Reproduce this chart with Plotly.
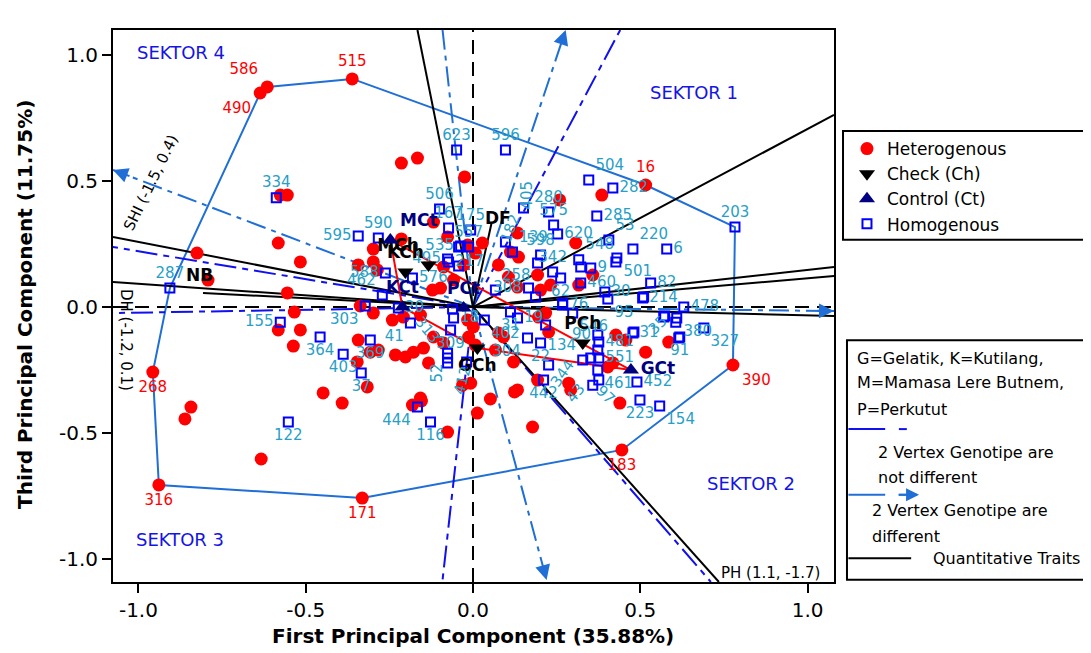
import plotly.graph_objects as go

FONT = "DejaVu Sans"

# ---------------- data: genotype scores (PC1, PC3) ----------------
het_x = [-0.615, -0.636, -0.361, -0.214, -0.166, -0.025, -0.576, -0.555, 0.516, 0.385,
         0.259, -0.118, -0.298, -0.214, -0.076, 0.028, -0.016, 0.133, -0.298, -0.582,
         -0.516, -0.825, -0.792, -0.555, -0.534, -0.582, -0.516, -0.537, -0.286, -0.337,
         -0.298, -0.241, -0.208, -0.157, -0.121, -0.097, -0.058, -0.016, -0.343, -0.307,
         -0.283, -0.346, -0.232, -0.202, -0.178, -0.148, -0.118, -0.088, -0.133, -0.448,
         -0.316, -0.957, -0.088, -0.028, 0.007, 0.001, -0.391, -0.181, -0.154, -0.076,
         0.013, -0.007, -0.843, -0.861, -0.633, -0.939, -0.331, -0.031, 0.052, 0.124,
         0.178, 0.286, 0.292, 0.439, 0.445, 0.193, 0.007, 0.067, 0.121, -0.157,
         0.076, 0.106, 0.133, -0.013, 0.136, 0.112, 0.307, 0.358, 0.316, 0.193,
         0.232, 0.202, 0.076, 0.091, 0.196, 0.226, 0.427, 0.457, 0.516, 0.585,
         0.418, 0.133, 0.217, 0.403, 0.777, -0.343]
het_y = [0.873, 0.849, 0.905, 0.571, 0.591, 0.516, 0.444, 0.444, 0.484, 0.444,
         0.425, 0.337, 0.230, 0.270, 0.278, 0.254, 0.246, 0.294, 0.179, 0.254,
         0.179, 0.214, 0.107, 0.056, -0.020, -0.091, -0.091, -0.155, 0.147, 0.004,
         -0.024, -0.052, -0.040, -0.032, 0.067, 0.075, 0.107, -0.052, -0.131, -0.179,
         -0.171, -0.218, -0.190, -0.198, -0.179, -0.163, -0.119, -0.143, -0.222, -0.341,
         -0.317, -0.258, 0.159, 0.167, 0.214, -0.079, -0.381, -0.389, -0.373, -0.496,
         -0.421, -0.302, -0.397, -0.444, -0.603, -0.706, -0.758, -0.310, -0.365, -0.337,
         -0.476, -0.302, -0.329, -0.381, -0.567, -0.290, -0.151, -0.171, -0.218, -0.361,
         0.167, 0.119, 0.079, -0.119, 0.198, 0.218, 0.254, 0.127, 0.087, 0.127,
         0.087, 0.067, -0.103, -0.119, -0.040, -0.099, -0.111, -0.131, -0.179, -0.139,
         -0.222, -0.329, -0.024, -0.238, -0.230, 0.167]
het_label = {0: "586", 1: "490", 2: "515", 8: "16", 51: "268", 65: "316",
             66: "171", 74: "183", 104: "390"}
het_label_pos = {0: "top left", 1: "bottom left", 2: "top center", 8: "top center",
                 51: "bottom center", 65: "bottom center", 66: "bottom center",
                 74: "bottom center", 104: "bottom right"}

hom_x = [-0.049, 0.097, -0.588, -0.100, 0.346, 0.418, 0.783, -0.343, -0.283, -0.073,
         -0.007, -0.037, -0.013, -0.076, -0.043, -0.262, -0.271, -0.322, -0.576, -0.457,
         -0.388, -0.307, -0.334, -0.187, -0.906, -0.223, -0.061, -0.067, -0.058, -0.181,
         -0.076, -0.076, -0.076, -0.019, 0.034, 0.151, 0.226, 0.241, 0.253, 0.202,
         0.118, 0.370, 0.406, 0.478, 0.579, 0.316, 0.430, 0.238, 0.352, 0.322,
         0.531, 0.394, 0.507, 0.262, 0.630, 0.268, 0.298, 0.403, 0.609, 0.573,
         0.690, 0.618, 0.478, 0.373, 0.376, 0.328, 0.376, 0.373, 0.490, 0.499,
         0.558, 0.211, 0.202, 0.226, 0.358, 0.376, 0.163, 0.133, 0.112, 0.067,
         0.166, -0.073, 0.097, -0.552, -0.166, -0.127, 0.187, 0.268, 0.570, 0.606,
         0.481, 0.615, 0.510, 0.427, 0.193, 0.352, 0.373, 0.217, -0.043, 0.322]
hom_y = [0.623, 0.623, 0.433, 0.389, 0.504, 0.472, 0.317, 0.282, 0.274, 0.313,
         0.306, 0.242, 0.238, 0.190, 0.163, 0.135, 0.048, 0.004, -0.060, -0.119,
         -0.187, -0.131, -0.262, -0.063, 0.075, -0.004, -0.008, -0.091, -0.044, 0.115,
         -0.183, -0.202, -0.222, -0.218, -0.052, 0.393, 0.377, 0.325, 0.290, 0.206,
         0.218, 0.361, 0.266, 0.230, 0.230, 0.187, 0.194, 0.139, 0.155, 0.095,
         0.095, 0.060, 0.036, 0.115, 0.000, 0.008, -0.024, 0.032, -0.044, -0.036,
         -0.083, -0.119, -0.103, -0.111, -0.139, -0.210, -0.202, -0.250, -0.298, -0.369,
         -0.393, -0.290, -0.143, -0.230, -0.310, -0.290, -0.123, -0.044, -0.020, 0.067,
         0.075, 0.179, 0.258, -0.456, -0.397, -0.456, 0.040, 0.016, -0.040, -0.060,
         -0.099, -0.123, 0.040, 0.179, 0.175, -0.202, -0.171, -0.071, 0.238, 0.159]
hom_label = ["623", "596", "334", "506", "504", "282", "203", "595", "590", "167",
             "175", "535", "557", "495", "", "588", "462", "303", "155", "364",
             "403", "369", "37", "41", "287", "20", "", "309", "18", "576",
             "", "", "", "", "402", "", "280", "575", "620", "598",
             "139", "285", "53", "220", "6", "548", "501", "342", "9", "460",
             "82", "30", "214", "62", "478", "76", "546", "95", "380", "",
             "327", "91", "31", "90", "481", "134", "551", "461", "452", "223",
             "154", "442", "22", "", "", "", "304", "19", "31", "258",
             "308", "217", "", "122", "444", "116", "", "", "", "",
             "", "", "", "", "", "", "", "", "", ""]
hom_pos = ["top center", "top center", "top center", "top center", "top right",
           "middle right", "top center", "middle left", "top center", "top center",
           "top center", "middle left", "top center", "middle left", "middle right",
           "middle left", "top left", "bottom left", "middle left", "bottom center",
           "bottom center", "bottom center", "bottom center", "bottom left", "top center",
           "middle right", "middle right", "bottom center", "middle right", "middle right",
           "middle right", "middle right", "middle right", "middle right", "bottom right",
           "middle right", "top center", "top center", "middle right", "top center",
           "top right", "middle right", "top right", "top right", "middle right",
           "top right", "bottom right", "top center", "middle right", "middle right",
           "middle right", "middle right", "middle right", "bottom center", "middle right",
           "middle right", "bottom right", "bottom right", "bottom right", "middle right",
           "bottom right", "bottom center", "middle right", "middle left", "middle right",
           "top left", "middle right", "bottom right", "middle right", "bottom center",
           "bottom right", "bottom center", "bottom center", "middle right", "middle right",
           "middle right", "bottom left", "middle right", "bottom center", "top right",
           "middle left", "middle right", "middle right", "bottom center", "bottom left",
           "bottom center"] + ["middle right"] * 14

# labels written at an angle in the original
rot_text = ["405", "182", "313", "52", "412", "344", "43", "97", "35"]
rot_x = [0.163, 0.112, -0.136, -0.106, -0.031, 0.268, 0.307, 0.397, 0.552]
rot_y = [0.444, 0.313, -0.091, -0.262, -0.290, -0.262, -0.341, -0.349, -0.071]
rot_angle = [-90, -70, 50, -90, -75, -55, -50, 45, -45]

check_names = ["MCh", "KCh", "PCh", "GCh"]
check_x = [-0.133, -0.202, 0.328, 0.013]
check_y = [0.167, 0.139, -0.143, -0.163]
check_pos = ["top left", "top center", "top center", "bottom center"]

control_names = ["MCt", "KCt", "PCt", "GCt"]
control_x = [-0.247, -0.211, -0.028, 0.472]
control_y = [0.266, 0.000, -0.004, -0.250]
control_pos = ["top right", "top center", "top center", "middle right"]

link_from = ["MCt", "MCt", "KCt", "GCh"]
link_to = ["GCt", "KCt", "GCh", "GCt"]

# trait vectors (end points where they leave the plotting area)
trait_names = ["SW", "NVS", "NVP", "HT", "PH", "100SW", "SHI", "DH", "NB", "DF"]
trait_x = [1.079, 1.079, 1.079, 1.079, 0.735, -0.166, -1.076, -1.076, -0.807, 0.055]
trait_y = [0.762, 0.159, 0.123, -0.036, -1.091, 1.099, 0.278, 0.099, 0.056, 0.330]

# sector rays
diff_x = [0.277, 0.220, 1.079, -1.076, -0.091]
diff_y = [1.099, -1.083, -0.016, 0.544, 1.099]
diff_arrow = [True, True, True, True, False]
same_x = [0.440, 0.711, -0.091, -1.076, -1.076]
same_y = [1.099, -1.091, -1.083, 0.238, -0.024]

hull_order = ["515", "16", "203", "390", "183", "171", "316", "268", "287", "490", "586", "515"]

sector_text = ["SEKTOR 1", "SEKTOR 2", "SEKTOR 3", "SEKTOR 4"]
sector_x = [0.660, 0.831, -0.876, -0.873]
sector_y = [0.853, -0.702, -0.921, 1.008]

XR = [-1.076, 1.079]
YR = [-1.091, 1.099]

# ---------------- styles ----------------
LB = "#1f6fd6"      # different / hull
DB = "#1010f0"      # not different
TEAL = "#279fc6"
RED = "#ff0000"
NAVY = "#000080"

fig = go.Figure()

# axes through origin
fig.add_trace(go.Scatter(x=XR, y=[0, 0], mode="lines", line=dict(color="black", width=2, dash="14px,8px"),
                         showlegend=False, hoverinfo="skip"))
fig.add_trace(go.Scatter(x=[0, 0], y=YR, mode="lines", line=dict(color="black", width=2, dash="14px,8px"),
                         showlegend=False, hoverinfo="skip"))

# hull
lookup = {}
for i, lab in het_label.items():
    lookup[lab] = (het_x[i], het_y[i])
for xx, yy, lab in zip(hom_x, hom_y, hom_label):
    if lab and lab not in lookup:
        lookup[lab] = (xx, yy)
fig.add_trace(go.Scatter(x=[lookup[k][0] for k in hull_order], y=[lookup[k][1] for k in hull_order],
                         mode="lines", line=dict(color=LB, width=2), showlegend=False, hoverinfo="skip"))

# sector rays
for ex, ey in zip(same_x, same_y):
    fig.add_trace(go.Scatter(x=[0, ex], y=[0, ey], mode="lines",
                             line=dict(color=DB, width=2, dash="22px,6px,6px,6px"),
                             showlegend=False, hoverinfo="skip"))
for ex, ey in zip(diff_x, diff_y):
    fig.add_trace(go.Scatter(x=[0, ex], y=[0, ey], mode="lines",
                             line=dict(color=LB, width=2, dash="20px,6px,5px,6px"),
                             showlegend=False, hoverinfo="skip"))

# trait vectors
for ex, ey in zip(trait_x, trait_y):
    fig.add_trace(go.Scatter(x=[0, ex], y=[0, ey], mode="lines", line=dict(color="black", width=2),
                             showlegend=False, hoverinfo="skip"))

# red links between checks / controls
pos = dict(zip(check_names, zip(check_x, check_y)))
pos.update(dict(zip(control_names, zip(control_x, control_y))))
for a, b in zip(link_from, link_to):
    fig.add_trace(go.Scatter(x=[pos[a][0], pos[b][0]], y=[pos[a][1], pos[b][1]], mode="lines",
                             line=dict(color=RED, width=2), showlegend=False, hoverinfo="skip"))

# genotypes
fig.add_trace(go.Scatter(
    x=het_x, y=het_y, mode="markers+text", name="Heterogenous", legendrank=1,
    text=[het_label.get(i, "") for i in range(len(het_x))],
    textposition=[het_label_pos.get(i, "middle right") for i in range(len(het_x))],
    textfont=dict(family=FONT, size=15, color=RED),
    marker=dict(symbol="circle", size=13, color=RED), cliponaxis=False))
fig.add_trace(go.Scatter(
    x=hom_x, y=hom_y, mode="markers+text", name="Homogenous", legendrank=4,
    text=hom_label, textposition=hom_pos,
    textfont=dict(family=FONT, size=15, color=TEAL),
    marker=dict(symbol="square-open", size=9, color="#0000ff", line=dict(width=2, color="#0000ff")),
    cliponaxis=False))
fig.add_trace(go.Scatter(
    x=check_x, y=check_y, mode="markers+text", name="Check (Ch)", legendrank=2,
    text=check_names, textposition=check_pos,
    textfont=dict(family=FONT, size=17, color="black", weight="bold"),
    marker=dict(symbol="triangle-down", size=14, color="black")))
fig.add_trace(go.Scatter(
    x=control_x, y=control_y, mode="markers+text", name="Control (Ct)", legendrank=3,
    text=control_names, textposition=control_pos,
    textfont=dict(family=FONT, size=17, color=NAVY, weight="bold"),
    marker=dict(symbol="triangle-up", size=14, color=NAVY)))

ann = []
# arrow heads on the "different" rays
for ex, ey, has in zip(diff_x, diff_y, diff_arrow):
    if has:
        ann.append(dict(x=ex, y=ey, ax=ex * 0.95, ay=ey * 0.95, xref="x", yref="y", axref="x", ayref="y",
                        showarrow=True, arrowhead=2, arrowsize=1.5, arrowwidth=2, arrowcolor=LB,
                        text="", standoff=0))
# rotated genotype labels
for t, xx, yy, a in zip(rot_text, rot_x, rot_y, rot_angle):
    ann.append(dict(x=xx, y=yy, text=t, textangle=a, showarrow=False,
                    font=dict(family=FONT, size=15, color=TEAL)))
# sector names
for t, xx, yy in zip(sector_text, sector_x, sector_y):
    ann.append(dict(x=xx, y=yy, text=t, showarrow=False, font=dict(family=FONT, size=18, color="#1414e6")))

# trait labels
tf = dict(family=FONT, size=15, color="black")
ann += [
    dict(x=1.100, y=0.762, text="SW  (2.4, 1.6)", xanchor="left", showarrow=False, font=tf),
    dict(x=1.100, y=0.175, text="NVS (2.5, 0.19)", xanchor="left", showarrow=False, font=tf),
    dict(x=1.106, y=0.099, text="NVP (2.5, 0.21)", xanchor="left", showarrow=False, font=tf),
    dict(x=1.100, y=-0.060, text="HT (2.1, -0.2)", xanchor="left", showarrow=False, font=tf),
    dict(x=0.735, y=-1.056, text="PH (1.1, -1.7)", xanchor="left", showarrow=False, font=tf),
    dict(x=0.052, y=1.147, text="100SW  (-0.5, 3.2)", showarrow=False, font=tf),
    dict(x=-0.963, y=0.492, text="SHI (-1.5, 0.4)", textangle=-64, showarrow=False, font=tf),
    dict(x=-1.037, y=-0.131, text="DH (-1.2, 0.1)", textangle=90, showarrow=False, font=tf),
    dict(x=-0.816, y=0.127, text="<b>NB</b>", showarrow=False, font=dict(family=FONT, size=17, color="black")),
    dict(x=0.076, y=0.353, text="<b>DF</b>", showarrow=False, font=dict(family=FONT, size=17, color="black")),
]

# axis titles
ann += [
    dict(xref="paper", yref="paper", x=0.499, y=-0.098, xanchor="center", yanchor="middle",
         text="<b>First Principal Component (35.88%)</b>",
         showarrow=False, font=dict(family=FONT, size=20, color="black")),
    dict(xref="paper", yref="paper", x=-0.122, y=0.502, xanchor="center", yanchor="middle",
         text="<b>Third Principal Component (11.75%)</b>",
         textangle=-90, showarrow=False, font=dict(family=FONT, size=20, color="black")),
]

# second information box
bf = dict(family=FONT, size=16, color="black")
box_lines = [
    (1.029, 0.404, "G=Gelatik, K=Kutilang,"),
    (1.029, 0.361, "M=Mamasa Lere Butnem,"),
    (1.029, 0.313, "P=Perkutut"),
    (1.058, 0.234, "2 Vertex Genotipe are"),
    (1.058, 0.190, "not different"),
    (1.050, 0.129, "2 Vertex Genotipe are"),
    (1.050, 0.082, "different"),
    (1.135, 0.043, "Quantitative Traits"),
]
for xx, yy, t in box_lines:
    ann.append(dict(xref="paper", yref="paper", x=xx, y=yy, text=t, xanchor="left", yanchor="middle",
                    showarrow=False, font=bf))
ann.append(dict(xref="paper", yref="paper", x=1.118, y=0.158, ax=-22, ay=0, text="", showarrow=True,
                arrowhead=2, arrowsize=1.3, arrowwidth=2, arrowcolor=LB, standoff=0))

shapes = [
    # legend frame (extends past the right edge like the original)
    dict(type="rect", xref="paper", yref="paper", x0=1.0125, x1=1.40, y0=0.620, y1=0.817,
         line=dict(color="black", width=2), fillcolor="rgba(0,0,0,0)"),
    # information box
    dict(type="rect", xref="paper", yref="paper", x0=1.018, x1=1.40, y0=0.004, y1=0.438,
         line=dict(color="black", width=2), fillcolor="rgba(0,0,0,0)"),
    dict(type="line", xref="paper", yref="paper", x0=1.020, x1=1.071, y0=0.277, y1=0.277, line=dict(color=DB, width=2)),
    dict(type="line", xref="paper", yref="paper", x0=1.090, x1=1.101, y0=0.277, y1=0.277, line=dict(color=DB, width=2)),
    dict(type="line", xref="paper", yref="paper", x0=1.020, x1=1.071, y0=0.158, y1=0.158, line=dict(color=LB, width=2)),
    dict(type="line", xref="paper", yref="paper", x0=1.090, x1=1.115, y0=0.158, y1=0.158, line=dict(color=LB, width=2)),
    dict(type="line", xref="paper", yref="paper", x0=1.020, x1=1.107, y0=0.043, y1=0.043, line=dict(color="black", width=2)),
]

axis_common = dict(ticks="outside", ticklen=9, tickwidth=2, tickcolor="black", showline=True,
                   linecolor="black", linewidth=2, mirror=True, showgrid=False, zeroline=False,
                   tickvals=[-1, -0.5, 0, 0.5, 1], ticktext=["-1.0", "-0.5", "0.0", "0.5", "1.0"],
                   tickfont=dict(family=FONT, size=20, color="black"))

# the page body adds an 8px offset, so the canvas is 8px smaller and the top/left margins 8px less
fig.update_layout(
    template="none",
    width=1083, height=645,
    margin=dict(l=105, r=257, t=22, b=71, autoexpand=False),
    paper_bgcolor="white", plot_bgcolor="white",
    xaxis=dict(range=XR, **axis_common),
    yaxis=dict(range=YR, **axis_common),
    showlegend=True,
    legend=dict(x=1.018, y=0.817, xanchor="left", yanchor="top", bgcolor="rgba(0,0,0,0)",
                borderwidth=0, font=dict(family=FONT, size=17, color="black"), itemclick=False),
    annotations=ann, shapes=shapes,
    hovermode=False,
)

fig.write_html("out.html")
